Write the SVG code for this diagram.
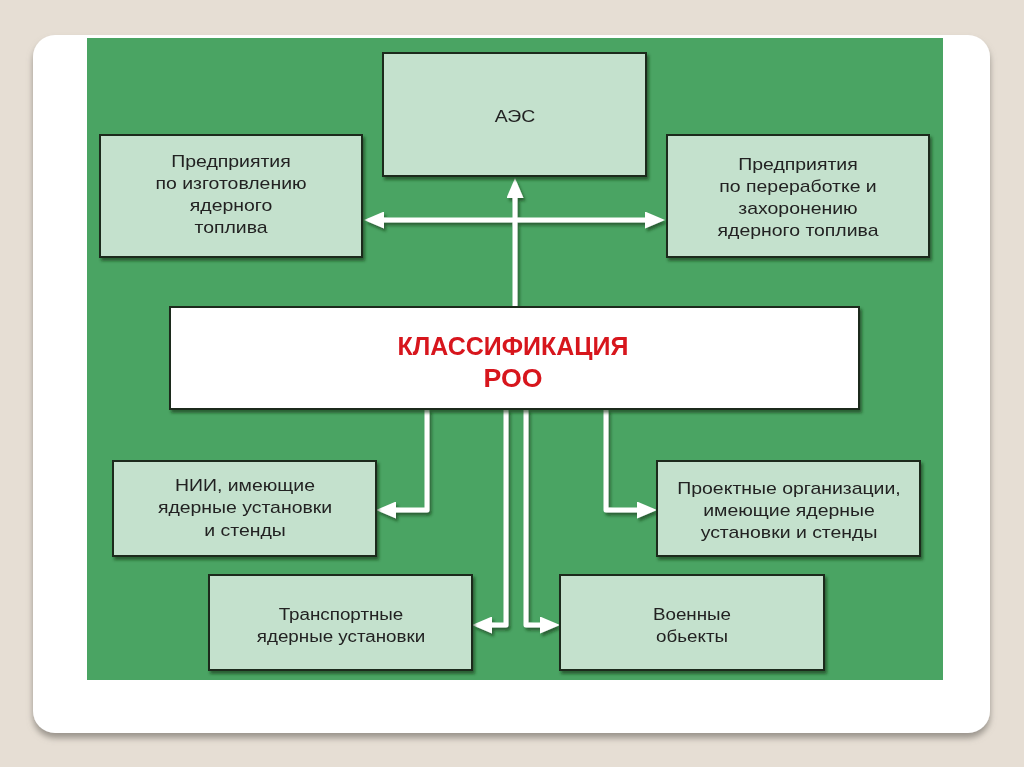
<svg xmlns="http://www.w3.org/2000/svg" width="1024" height="767" viewBox="0 0 1024 767">
<defs>
<style>
.box{fill:#C4E1CD;stroke:#1B2A1E;stroke-width:2}
.t{font-family:"Liberation Sans",Arial,sans-serif;font-size:16.2px;fill:#222222;text-anchor:middle}
.title{font-family:"Liberation Sans",Arial,sans-serif;font-size:25px;font-weight:bold;fill:#D7141F;text-anchor:middle}
.conn{fill:none;stroke:#FFFFFF;stroke-width:5;stroke-linejoin:round}
</style>
<filter id="sh" x="-10%" y="-10%" width="120%" height="130%">
<feDropShadow dx="2" dy="3" stdDeviation="1.5" flood-color="#0A3318" flood-opacity="0.6"/>
</filter>
<filter id="cardsh" x="-5%" y="-5%" width="110%" height="115%">
<feDropShadow dx="0" dy="5" stdDeviation="3" flood-color="#7A756E" flood-opacity="0.7"/>
</filter>
<marker id="ah" markerUnits="userSpaceOnUse" markerWidth="20" markerHeight="17" refX="0" refY="8.5" orient="auto-start-reverse" viewBox="0 0 20 17">
<path d="M0,0 L20,8.5 L0,17 z" fill="#FFFFFF"/>
</marker>
</defs>
<rect x="0" y="0" width="1024" height="767" fill="#E6DED4"/>
<rect x="33" y="35" width="957" height="698" rx="22" ry="22" fill="#FFFFFF" filter="url(#cardsh)"/>
<rect x="87" y="38" width="856" height="642" fill="#4AA463"/>

<g id="connectors" filter="url(#sh)">
<path class="conn" d="M515,307 V198" marker-end="url(#ah)"/>
<path class="conn" d="M384,220 H645" marker-start="url(#ah)" marker-end="url(#ah)"/>
<path class="conn" d="M427,409 V510 H396" marker-end="url(#ah)"/>
<path class="conn" d="M606,409 V510 H637" marker-end="url(#ah)"/>
<path class="conn" d="M506,409 V625 H492" marker-end="url(#ah)"/>
<path class="conn" d="M526,409 V625 H540" marker-end="url(#ah)"/>
</g>

<g id="node-aes" filter="url(#sh)">
<rect class="box" x="383" y="53" width="263" height="123"/>
<text class="t" transform="translate(515,0) scale(1.2,1)"><tspan x="0" y="122">АЭС</tspan></text>
</g>

<g id="node-fuel-production" filter="url(#sh)">
<rect class="box" x="100" y="135" width="262" height="122"/>
<text class="t" transform="translate(231,0) scale(1.2,1)"><tspan x="0" y="167">Предприятия</tspan><tspan x="0" y="189">по изготовлению</tspan><tspan x="0" y="211">ядерного</tspan><tspan x="0" y="233">топлива</tspan></text>
</g>

<g id="node-fuel-processing" filter="url(#sh)">
<rect class="box" x="667" y="135" width="262" height="122"/>
<text class="t" transform="translate(798,0) scale(1.2,1)"><tspan x="0" y="170">Предприятия</tspan><tspan x="0" y="192">по переработке и</tspan><tspan x="0" y="214">захоронению</tspan><tspan x="0" y="236">ядерного топлива</tspan></text>
</g>

<g id="node-classification" filter="url(#sh)">
<rect x="170" y="307" width="689" height="102" fill="#FFFFFF" stroke="#1B2A1E" stroke-width="2"/>
<text class="title" x="513" y="355" textLength="231" lengthAdjust="spacingAndGlyphs">КЛАССИФИКАЦИЯ</text>
<text class="title" x="513" y="387" textLength="59" lengthAdjust="spacingAndGlyphs">РОО</text>
</g>

<g id="node-nii" filter="url(#sh)">
<rect class="box" x="113" y="461" width="263" height="95"/>
<text class="t" transform="translate(245,0) scale(1.2,1)"><tspan x="0" y="491">НИИ, имеющие</tspan><tspan x="0" y="513">ядерные установки</tspan><tspan x="0" y="536">и стенды</tspan></text>
</g>

<g id="node-design" filter="url(#sh)">
<rect class="box" x="657" y="461" width="263" height="95"/>
<text class="t" transform="translate(789,0) scale(1.2,1)"><tspan x="0" y="494">Проектные организации,</tspan><tspan x="0" y="516">имеющие ядерные</tspan><tspan x="0" y="538">установки и стенды</tspan></text>
</g>

<g id="node-transport" filter="url(#sh)">
<rect class="box" x="209" y="575" width="263" height="95"/>
<text class="t" transform="translate(341,0) scale(1.16,1)"><tspan x="0" y="620">Транспортные</tspan><tspan x="0" y="642">ядерные установки</tspan></text>
</g>

<g id="node-military" filter="url(#sh)">
<rect class="box" x="560" y="575" width="264" height="95"/>
<text class="t" transform="translate(692,0) scale(1.16,1)"><tspan x="0" y="620">Военные</tspan><tspan x="0" y="642">обьекты</tspan></text>
</g>
</svg>
